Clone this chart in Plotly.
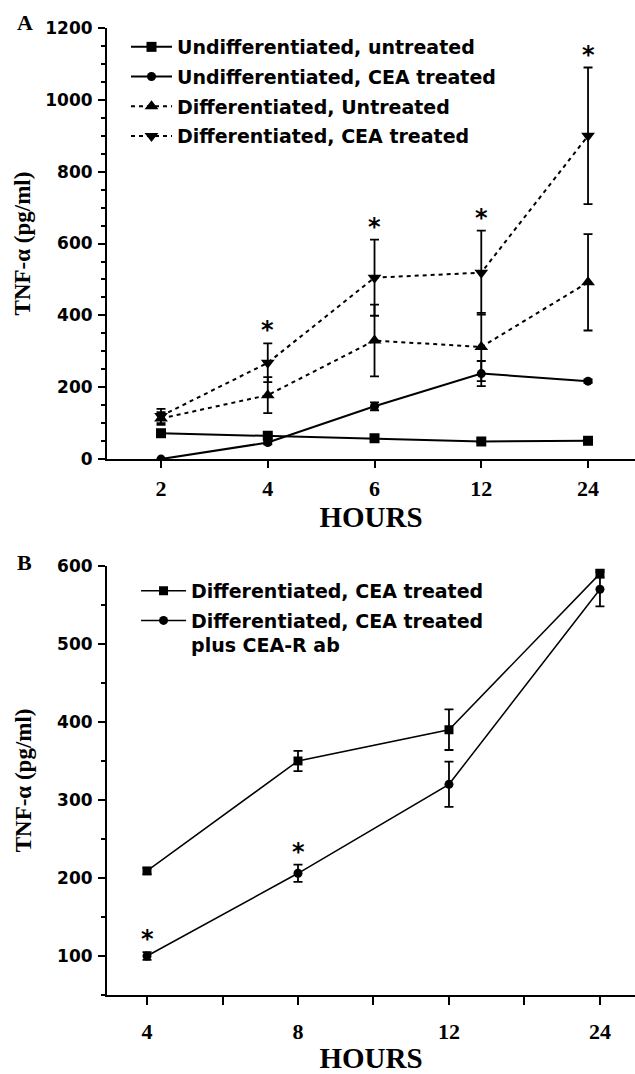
import plotly.graph_objects as go

# ---------------- Panel A data ----------------
hours_a = ["2", "4", "6", "12", "24"]
undiff_untreated = [72, 65, 58, 49, 51]
undiff_untreated_err = [6, 6, 5, 4, 4]
undiff_cea = [0, 46, 147, 238, 217]
undiff_cea_err = [0, 5, 11, 35, 5]
diff_untreated = [113, 178, 330, 312, 492]
diff_untreated_err = [18, 50, 100, 95, 134]
diff_cea = [120, 268, 505, 519, 900]
diff_cea_err = [20, 54, 106, 117, 190]
star_idx_a = [1, 2, 3, 4]          # asterisks above "Differentiated, CEA treated"
yticks_a = [0, 200, 400, 600, 800, 1000, 1200]

# ---------------- Panel B data ----------------
hours_b = ["4", "8", "12", "24"]
diff_cea_b = [209, 350, 390, 590]
diff_cea_b_err = [4, 13, 26, 5]
diff_cea_ab = [100, 206, 320, 570]
diff_cea_ab_err = [5, 11, 29, 22]
star_idx_b = [0, 1]                # asterisks above "plus CEA-R ab"
yticks_b = [100, 200, 300, 400, 500, 600]

SANS = "DejaVu Sans"
LEG = "DejaVu Sans"
SERIF = "Liberation Serif"

xa = list(range(len(hours_a)))
xb = list(range(len(hours_b)))


def err(arr):
    return dict(type="data", array=arr, visible=True, color="black",
                thickness=1.8, width=4.5)


def bold(family, size):
    return dict(family=family, size=size, color="black", weight="bold")


def btxt(vals):
    return ["<b>%s</b>" % v if str(v) else "" for v in vals]


fig = go.Figure()

specs_a = [
    ("Undifferentiated, untreated", undiff_untreated, undiff_untreated_err, "square", 10, "solid"),
    ("Undifferentiated, CEA treated", undiff_cea, undiff_cea_err, "circle", 9, "solid"),
    ("Differentiated, Untreated", diff_untreated, diff_untreated_err, "triangle-up", 12, "4px,4px"),
    ("Differentiated, CEA treated", diff_cea, diff_cea_err, "triangle-down", 12, "4px,4px"),
]
for i, (name, y, e, sym, sz, dash) in enumerate(specs_a):
    fig.add_trace(go.Scatter(
        x=xa, y=y, error_y=err(e), name="<b>%s</b>" % name, mode="lines+markers",
        line=dict(color="black", width=2, dash=dash),
        marker=dict(symbol=sym, size=sz, color="black"),
        xaxis="x", yaxis="y", legend="legend", legendgroup="a%d" % i,
    ))

specs_b = [
    ("Differentiated, CEA treated", diff_cea_b, diff_cea_b_err, "square"),
    ("Differentiated, CEA treated<br>plus CEA-R ab", diff_cea_ab, diff_cea_ab_err, "circle"),
]
for i, (name, y, e, sym) in enumerate(specs_b):
    fig.add_trace(go.Scatter(
        x=xb, y=y, error_y=err(e), name="<b>%s</b>" % name.replace("<br>", "</b><br><b>"),
        mode="lines+markers",
        line=dict(color="black", width=1.5),
        marker=dict(symbol=sym, size=9, color="black"),
        xaxis="x2", yaxis="y2", legend="legend2", legendgroup="b%d" % i,
    ))

for i in star_idx_a:
    fig.add_annotation(x=xa[i], y=diff_cea[i] + diff_cea_err[i], xref="x", yref="y",
                       text="<b>*</b>", showarrow=False, yanchor="bottom", yshift=-3,
                       font=bold(SANS, 24))
for i in star_idx_b:
    fig.add_annotation(x=xb[i], y=diff_cea_ab[i] + diff_cea_ab_err[i], xref="x2", yref="y2",
                       text="<b>*</b>", showarrow=False, yanchor="bottom", yshift=-3,
                       font=bold(SANS, 24))

# panel letters
fig.add_annotation(text="<b>A</b>", xref="paper", yref="paper", x=-0.156, y=1.006,
                   xanchor="center", yanchor="middle", showarrow=False,
                   font=bold(SERIF, 22))
fig.add_annotation(text="<b>B</b>", xref="paper", yref="paper", x=-0.156, y=0.4475,
                   xanchor="center", yanchor="middle", showarrow=False,
                   font=bold(SERIF, 22))

axis_common = dict(showline=True, linecolor="black", linewidth=2, ticks="outside",
                   tickcolor="black", tickwidth=2, showgrid=False, zeroline=False,
                   mirror=False)

fig.update_layout(
    width=635, height=1074,
    margin=dict(l=107, r=0, t=28, b=77),
    paper_bgcolor="white", plot_bgcolor="white",
    showlegend=True,
    xaxis=dict(**axis_common, domain=[0, 1], anchor="y", range=[-0.506, 4.44],
               tickvals=xa, ticktext=btxt(hours_a), ticklen=7, ticklabelstandoff=2,
               tickfont=bold(SERIF, 22),
               title=dict(text="<b>HOURS</b>", standoff=2, font=bold(SERIF, 29))),
    yaxis=dict(**axis_common, domain=[0.5542, 1], anchor="x", range=[0, 1200],
               tickvals=yticks_a, ticktext=btxt(yticks_a), ticklen=7, ticklabelstandoff=2,
               minor=dict(dtick=50, tick0=0, ticklen=4, tickwidth=2, tickcolor="black", ticks="outside"),
               tickfont=bold(SANS, 17),
               title=dict(text="<b>TNF-α (pg/ml)</b>", standoff=8, font=bold(SERIF, 23))),
    xaxis2=dict(**axis_common, domain=[0, 1], anchor="y2", range=[-0.265, 3.232],
                tickvals=[0, 0.5, 1, 1.5, 2, 2.5, 3],
                ticktext=btxt([hours_b[0], "", hours_b[1], "", hours_b[2], "", hours_b[3]]),
                ticklen=8, ticklabelstandoff=8,
                tickfont=bold(SERIF, 22),
                title=dict(text="<b>HOURS</b>", standoff=9, font=bold(SERIF, 29))),
    yaxis2=dict(**axis_common, domain=[0, 0.4438], anchor="x2", range=[50, 600],
                tickvals=yticks_b, ticktext=btxt(yticks_b), ticklen=7, ticklabelstandoff=2,
                minor=dict(dtick=50, tick0=0, ticklen=4, tickwidth=2, tickcolor="black", ticks="outside"),
                tickfont=bold(SANS, 17),
                title=dict(text="<b>TNF-α (pg/ml)</b>", standoff=19, font=bold(SERIF, 23))),
    legend=dict(x=0.036, y=1.0, xanchor="left", yanchor="top", bgcolor="rgba(0,0,0,0)",
                borderwidth=0, itemwidth=41, tracegroupgap=2, valign="top",
                font=bold(LEG, 19)),
    legend2=dict(x=0.055, y=0.4376, xanchor="left", yanchor="top", bgcolor="rgba(0,0,0,0)",
                 borderwidth=0, itemwidth=45, tracegroupgap=2, valign="top",
                 font=bold(LEG, 19)),
)

fig.write_html("out.html")
